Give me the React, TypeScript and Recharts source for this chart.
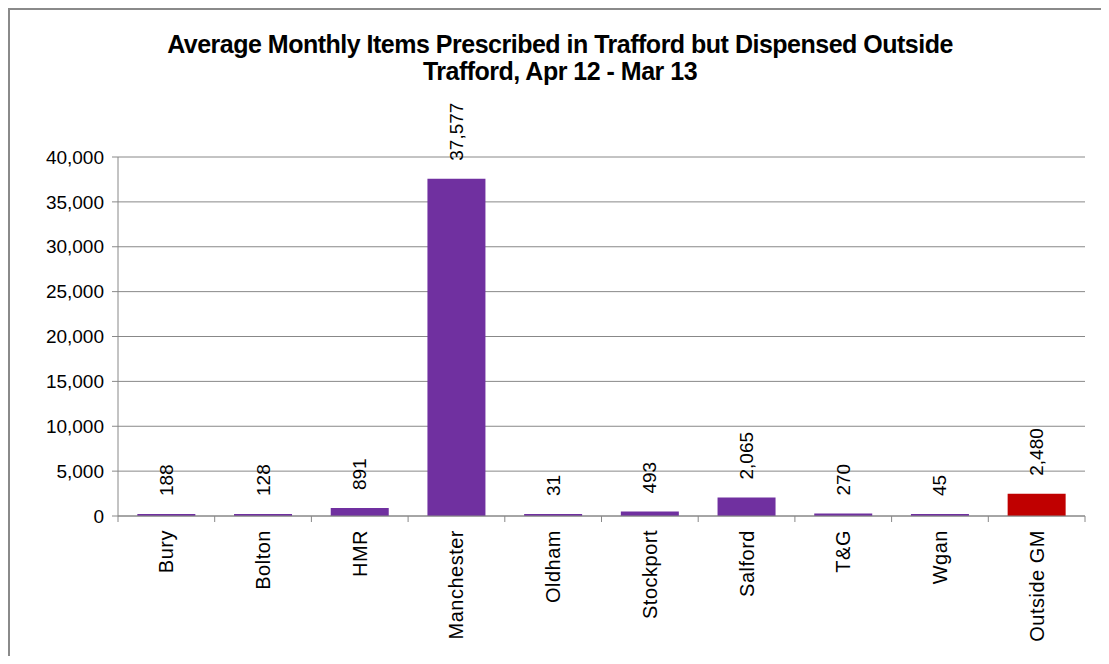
import { BarChart, Bar, XAxis, YAxis, CartesianGrid, Cell, LabelList } from "recharts";

const areas = ["Bury", "Bolton", "HMR", "Manchester", "Oldham", "Stockport", "Salford", "T&G", "Wgan", "Outside GM"];
const avgItems = [188, 128, 891, 37577, 31, 493, 2065, 270, 45, 2480];
const barColors = ["#7030A0", "#7030A0", "#7030A0", "#7030A0", "#7030A0", "#7030A0", "#7030A0", "#7030A0", "#7030A0", "#C00000"];
const yTicks = [0, 5000, 10000, 15000, 20000, 25000, 30000, 35000, 40000];

const data = areas.map((area, i) => ({ area, items: avgItems[i], color: barColors[i] }));

const FONT = "'Liberation Sans', Arial, sans-serif";
const GRAY = "#888888";

const fmt = (v: number) => v.toLocaleString("en-GB");

function CategoryTick(props: any) {
  const { x, y, payload, index } = props;
  const half = payload?.offset ?? 48.35;
  return (
    <g>
      <line x1={x - half} y1={y - 8} x2={x - half} y2={y - 2} stroke={GRAY} />
      {index === areas.length - 1 && (
        <line x1={x + half} y1={y - 8} x2={x + half} y2={y - 2} stroke={GRAY} />
      )}
      <text
        x={x}
        y={y + 6}
        transform={`rotate(-90, ${x}, ${y + 6})`}
        textAnchor="end"
        dominantBaseline="central"
        fontFamily={FONT}
        fontSize={20}
        letterSpacing={0.5}
        fill="#000"
      >
        {payload.value}
      </text>
    </g>
  );
}

function ValueLabel(props: any) {
  const { x, y, width, value } = props;
  const cx = x + width / 2;
  const ty = y - 18;
  return (
    <text
      x={cx}
      y={ty}
      transform={`rotate(-90, ${cx}, ${ty})`}
      textAnchor="start"
      dominantBaseline="central"
      fontFamily={FONT}
      fontSize={19}
      fill="#000"
    >
      {fmt(value)}
    </text>
  );
}

export default function App() {
  return (
    <div
      style={{
        position: "relative",
        width: 1099,
        height: 646,
        borderTop: "2px solid #8a8a8a",
        borderLeft: "2px solid #8a8a8a",
        background: "#fff",
        fontFamily: FONT,
      }}
    >
      <div
        style={{
          position: "absolute",
          left: 0,
          top: 21,
          width: 1100,
          textAlign: "center",
          fontWeight: "bold",
          fontSize: 25,
          letterSpacing: -0.5,
          lineHeight: "27px",
          color: "#000",
        }}
      >
        Average Monthly Items Prescribed in Trafford but Dispensed Outside
        <br />
        Trafford, Apr 12 - Mar 13
      </div>
      <BarChart
        width={1099}
        height={646}
        data={data}
        margin={{ top: 147, right: 24, left: 0, bottom: 0 }}
        barCategoryGap="20%"
      >
        <CartesianGrid vertical={false} stroke={GRAY} strokeDasharray="" />
        <YAxis
          width={108}
          domain={[0, 40000]}
          ticks={yTicks}
          tickFormatter={fmt}
          tickSize={6}
          tickMargin={8}
          stroke={GRAY}
          tick={{ fill: "#000", fontSize: 19, fontFamily: FONT }}
          interval={0}
        />
        <XAxis
          dataKey="area"
          height={140}
          interval={0}
          stroke={GRAY}
          tickLine={false}
          tick={<CategoryTick />}
        />
        <Bar dataKey="items" isAnimationActive={false} minPointSize={2}>
          {data.map((d) => (
            <Cell key={d.area} fill={d.color} />
          ))}
          <LabelList dataKey="items" content={<ValueLabel />} />
        </Bar>
      </BarChart>
    </div>
  );
}
